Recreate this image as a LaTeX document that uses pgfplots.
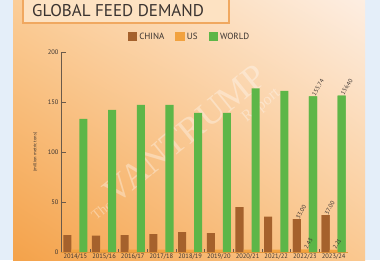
\documentclass[border=0pt]{standalone}
\usepackage{fontspec}
\setmainfont{PT Sans}
\newfontfamily\wmfont{Liberation Serif}
\usepackage{pgfplots}
\pgfplotsset{compat=1.18}
\usetikzlibrary{shadings}
\definecolor{bgblue}{HTML}{E4EEF9}
\definecolor{china}{HTML}{A5612C}
\definecolor{usc}{HTML}{F2A23F}
\definecolor{world}{HTML}{5DB648}
\definecolor{bgUL}{HTML}{FBCD98}
\definecolor{bgUR}{HTML}{FDEEE2}
\definecolor{bgLL}{HTML}{F4A24A}
\definecolor{bgLR}{HTML}{FAC890}
\definecolor{titlefill}{HTML}{FDE2C2}
\definecolor{titledraw}{HTML}{F0A860}
\definecolor{txt}{HTML}{3A3330}
\definecolor{axisc}{HTML}{6B5A4A}
\begin{document}
\begin{tikzpicture}
\useasboundingbox (0,0) rectangle (380pt,260pt);
\fill[bgblue] (0,0) rectangle (380pt,260pt);
\shade[upper left=bgUL, upper right=bgUR, lower left=bgLL, lower right=bgLR] (13pt,0) rectangle (365pt,260pt);
\draw[fill=titlefill, draw=titledraw, line width=1.2pt] (23pt,237pt) rectangle (229pt,266pt);
\node[anchor=west, text=txt, font=\fontsize{17}{20}\selectfont, inner sep=0pt] at (32pt,249pt) {GLOBAL FEED DEMAND};
\node[rotate=39, text=white, opacity=0.35, align=right, inner sep=0pt, font=\wmfont] at (182pt,110pt)
  {{\fontsize{14}{16}\selectfont The }{\fontsize{36}{36}\selectfont VANTRUMP}\\[6pt]{\fontsize{16}{16}\selectfont Report}};
\begin{axis}[
  at={(61pt,8pt)}, anchor=south west,
  width=287pt, height=200pt, scale only axis,
  xmin=-0.5, xmax=9.5, ymin=0, ymax=200, enlargelimits=false,
  ybar, bar width=0.28,
  axis x line*=bottom, axis y line*=left,
  axis line style={-}, 
  x axis line style={draw=usc!80!china, line width=0.8pt},
  y axis line style={draw=axisc, line width=0.6pt},
  xtick={0,...,9},
  xticklabels={2014/15,2015/16,2016/17,2017/18,2018/19,2019/20,2020/21,2021/22,2022/23,2023/24},
  every major x tick/.append style={draw=none},
  minor x tick num=1,
  minor tick length=3pt,
  every minor x tick/.append style={draw=axisc, line width=0.4pt},
  ytick={0,50,100,150,200},
  tick align=inside, major tick length=5pt,
  every major y tick/.append style={draw=axisc, line width=0.6pt},
  /pgf/number format/assume math mode=true,
  tick label style={font=\fontsize{6.5}{7}\selectfont, text=txt},
  y tick label style={xshift=1pt},
  x tick label style={yshift=1.5pt},
  ylabel={(million metric tons)},
  ylabel style={font=\fontsize{4.5}{5}\selectfont, text=txt, at={(axis description cs:-0.09,0.5)}, anchor=center},
  legend columns=3,
  legend style={at={(0.448,1.075)}, anchor=center, draw=none, fill=none,
    font=\fontsize{9}{10}\selectfont, text=txt,
    /tikz/every even column/.append style={column sep=9pt}},
  legend image code/.code={\fill[#1] (0pt,-4.5pt) rectangle (9.5pt,4.5pt);},
  nodes near coords style={font=\fontsize{6}{7}\selectfont, text=txt},
]
\addplot[fill=china, draw=none, bar shift=-0.28] coordinates {(0,17) (1,16.5) (2,17) (3,18) (4,20) (5,19) (6,45) (7,35.5) (8,33) (9,37)};
\addlegendentry{CHINA}
\addplot[fill=usc, draw=none, bar shift=0] coordinates {(0,2.3) (1,2.3) (2,2.3) (3,2.3) (4,2.3) (5,2.3) (6,2.3) (7,2.3) (8,2.43) (9,2.21)};
\addlegendentry{US}
\addplot[fill=world, draw=none, bar shift=0.28] coordinates {(0,133) (1,142) (2,147) (3,147) (4,139) (5,139) (6,163.5) (7,161) (8,155.74) (9,156.40)};
\addlegendentry{WORLD}
\addplot[forget plot, fill=china, draw=none, bar shift=-0.28,
  nodes near coords={\pgfmathprintnumber[fixed,fixed zerofill,precision=2]{\pgfplotspointmeta}},
  every node near coord/.append style={rotate=60, anchor=west, inner sep=1pt, font=\fontsize{6}{7}\selectfont, text=txt}]
  coordinates {(8,33) (9,37)};
\addplot[forget plot, fill=usc, draw=none, bar shift=0,
  nodes near coords={\pgfmathprintnumber[fixed,fixed zerofill,precision=2]{\pgfplotspointmeta}},
  every node near coord/.append style={rotate=60, anchor=west, inner sep=1pt, font=\fontsize{6}{7}\selectfont, text=txt}]
  coordinates {(8,2.43) (9,2.21)};
\addplot[forget plot, fill=world, draw=none, bar shift=0.28,
  nodes near coords={\pgfmathprintnumber[fixed,fixed zerofill,precision=2]{\pgfplotspointmeta}},
  every node near coord/.append style={rotate=60, anchor=west, inner sep=1pt, font=\fontsize{6}{7}\selectfont, text=txt}]
  coordinates {(8,155.74) (9,156.40)};
\end{axis}
\end{tikzpicture}
\end{document}
